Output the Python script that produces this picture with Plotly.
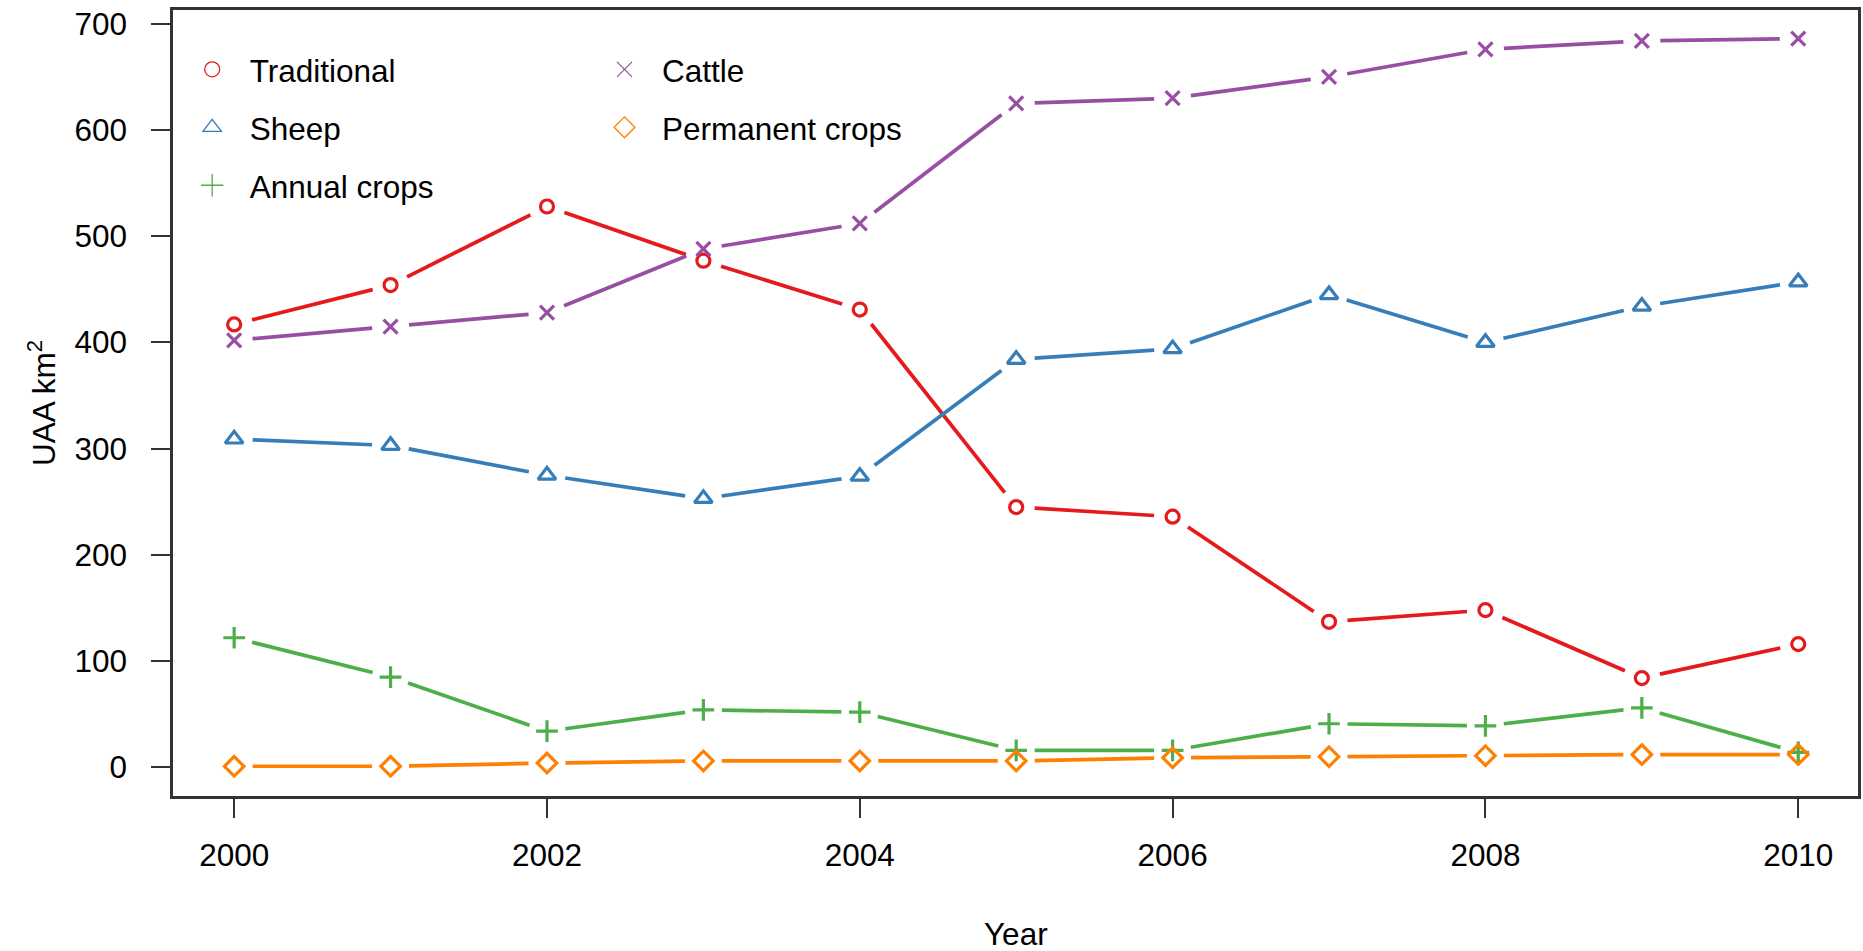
import math
import plotly.graph_objects as go

# Utilised agricultural area (km²) by farm type, 2000-2010
years = [2000, 2001, 2002, 2003, 2004, 2005, 2006, 2007, 2008, 2009, 2010]
traditional = [417, 454, 528, 477, 431, 245, 236, 137, 148, 84, 116]
sheep = [309, 303, 275, 253, 274, 384, 394, 445, 400, 434, 457]
annual_crops = [122, 85, 34, 54, 52, 16, 16, 41, 39, 56, 14]
cattle = [402, 415, 428, 488, 512, 625, 630, 650, 676, 684, 686]
permanent_crops = [1, 1, 4, 6, 6, 6, 9, 10, 11, 12, 12]

x_ticks = [2000, 2002, 2004, 2006, 2008, 2010]
y_ticks = [0, 100, 200, 300, 400, 500, 600, 700]

W, H = 1863, 951
M_L, M_R, M_T, M_B = 173, 2.5, 9.5, 155
PLOT_W = W - M_L - M_R
PLOT_H = H - M_T - M_B
X_RANGE = [1999.609, 2010.382]
Y_RANGE = [-27.0, 713.0]

FONT = "Liberation Sans, Arial, sans-serif"
FS = 31.5
AXIS_COL = "#333333"

series = [
    # name, values, colour, symbol, size, legend size, legend
    ("Traditional", traditional, "#E41A1C", "circle-open", 13, 15, "legend"),
    ("Sheep", sheep, "#377EB8", "triangle-up-open", 15.5, 16, "legend"),
    ("Annual crops", annual_crops, "#4DAF4A", "cross-thin-open", 15.5, 16, "legend"),
    ("Cattle", cattle, "#984EA3", "x-thin-open", 14, 15, "legend2"),
    ("Permanent crops", permanent_crops, "#FF7F00", "diamond-open", 15, 16, "legend2"),
]

# pixel scale of the plotting region, used to leave a small gap
# between each line segment and the point symbols (R's type = "b")
sx = PLOT_W / (X_RANGE[1] - X_RANGE[0])
sy = PLOT_H / (Y_RANGE[1] - Y_RANGE[0])
GAP = 18.5


def gapped_segments(xs, ys, gap=GAP):
    gx, gy = [], []
    for i in range(len(xs) - 1):
        dx = (xs[i + 1] - xs[i]) * sx
        dy = (ys[i + 1] - ys[i]) * sy
        length = math.hypot(dx, dy)
        if length <= 2 * gap:
            continue
        f = gap / length
        x0 = xs[i] + (xs[i + 1] - xs[i]) * f
        y0 = ys[i] + (ys[i + 1] - ys[i]) * f
        x1 = xs[i + 1] - (xs[i + 1] - xs[i]) * f
        y1 = ys[i + 1] - (ys[i + 1] - ys[i]) * f
        gx += [x0, x1, None]
        gy += [y0, y1, None]
    return gx, gy


fig = go.Figure()

for name, vals, col, sym, size, lsize, leg in series:
    gx, gy = gapped_segments(years, vals)
    fig.add_trace(go.Scatter(
        x=gx, y=gy, mode="lines", line=dict(color=col, width=3.7),
        showlegend=False, hoverinfo="skip", connectgaps=False,
    ))
    fig.add_trace(go.Scatter(
        x=years, y=vals, mode="markers", name=name,
        marker=dict(symbol=sym, size=size, color=col, line=dict(color=col, width=3.2)),
        showlegend=False,
    ))
    # legend entry: symbol only, thin outline
    fig.add_trace(go.Scatter(
        x=[None], y=[None], mode="markers", name=name, legend=leg,
        legendgroup=name,
        marker=dict(symbol=sym, size=lsize, color=col, line=dict(color=col, width=1.3)),
        showlegend=True,
    ))

legend_common = dict(
    font=dict(family=FONT, size=FS, color="black"),
    bgcolor="rgba(0,0,0,0)",
    borderwidth=0,
    xanchor="left",
    yanchor="top",
    tracegroupgap=14,
    traceorder="grouped",
    itemwidth=65,
)

fig.update_layout(
    width=W, height=H,
    margin=dict(l=M_L, r=M_R, t=M_T, b=M_B, pad=0),
    paper_bgcolor="white",
    plot_bgcolor="white",
    font=dict(family=FONT, size=FS, color="black"),
    legend=dict(x=0.001, y=0.9588, **legend_common),
    legend2=dict(x=0.2457, y=0.9588, **legend_common),
    xaxis=dict(
        range=X_RANGE, tickvals=x_ticks, ticktext=[str(v) for v in x_ticks],
        showgrid=False, zeroline=False,
        showline=True, mirror=True, linecolor=AXIS_COL, linewidth=2.5,
        ticks="outside", ticklen=19, tickwidth=2, tickcolor=AXIS_COL,
        tickfont=dict(family=FONT, size=FS, color="black"),
        ticklabelstandoff=10,
    ),
    yaxis=dict(
        range=Y_RANGE, tickvals=y_ticks, ticktext=[str(v) for v in y_ticks],
        showgrid=False, zeroline=False,
        showline=True, mirror=True, linecolor=AXIS_COL, linewidth=2.5,
        ticks="outside", ticklen=19, tickwidth=2, tickcolor=AXIS_COL,
        tickfont=dict(family=FONT, size=FS, color="black"),
        ticklabelstandoff=18,
    ),
    annotations=[
        dict(text="Year", x=0.5, y=0, xref="paper", yref="paper",
             xanchor="center", yanchor="middle", yshift=-138, showarrow=False,
             font=dict(family=FONT, size=FS, color="black")),
        dict(text="UAA km<sup>2</sup>", x=0, y=0.5, xref="paper", yref="paper",
             xanchor="center", yanchor="middle", xshift=-131, textangle=-90,
             showarrow=False, font=dict(family=FONT, size=FS, color="black")),
    ],
)

fig.write_html("out.html")
